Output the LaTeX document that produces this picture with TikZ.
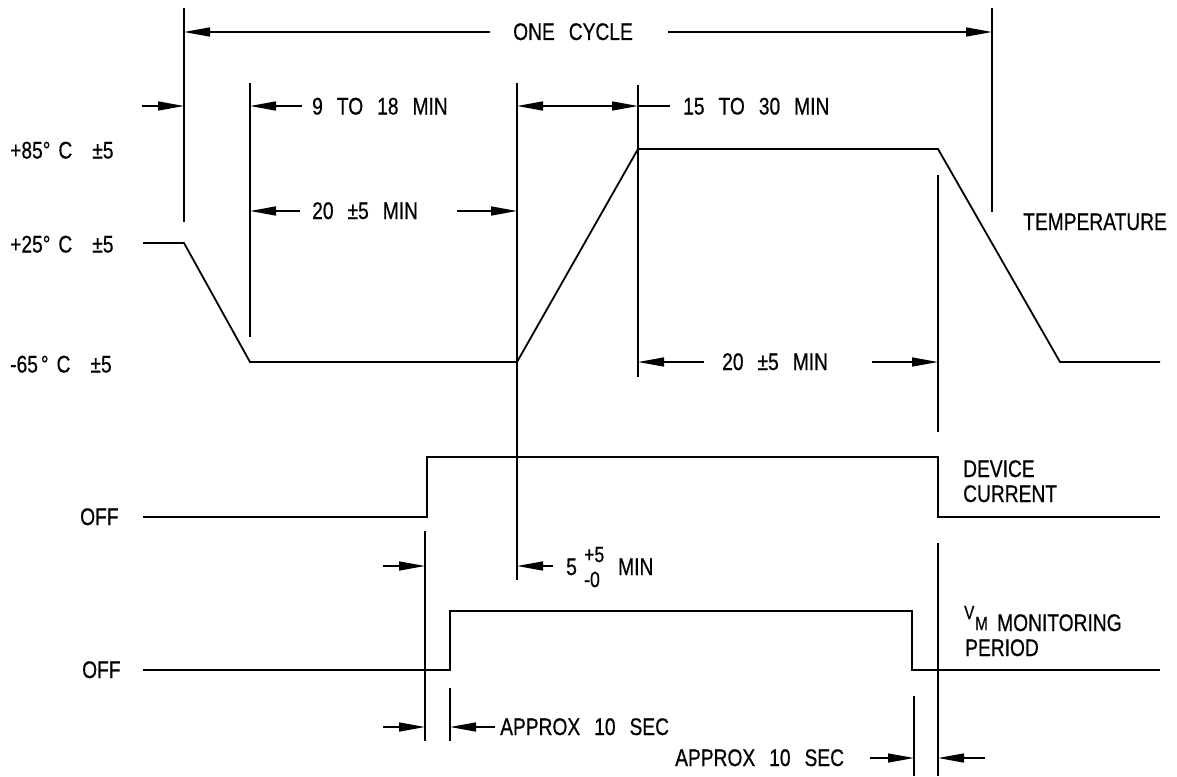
\documentclass[tikz,border=0pt]{standalone}
\usepackage{fontspec}
\setmainfont{Liberation Sans}[FakeStretch=0.8,FakeBold=0.6]
\usetikzlibrary{arrows.meta}
\newcommand{\cadfont}{\fontsize{24}{28}\selectfont\spaceskip=14pt\relax}
\newcommand{\cadsmall}{\fontsize{22}{25}\selectfont}
\newcommand{\cadtiny}{\fontsize{19}{22}\selectfont}
\begin{document}
\begin{tikzpicture}[x=1pt,y=-1pt,
  dimline/.style={line width=1.5pt,-{Triangle[length=26pt,width=9pt]}},
  dimboth/.style={line width=1.5pt,{Triangle[length=26pt,width=9pt]}-{Triangle[length=26pt,width=9pt]}},
  extline/.style={line width=1.5pt},
  wave/.style={line width=1.8pt,line join=miter},
  lbl/.style={anchor=base west,inner sep=0pt,font=\cadfont},
  lblsmall/.style={anchor=base west,inner sep=0pt,font=\cadsmall},
  lbltiny/.style={anchor=base west,inner sep=0pt,font=\cadtiny}]
\useasboundingbox (0,0) rectangle (1177,776);

% ---------- extension lines ----------
\coordinate (e1t) at (184,8);   \coordinate (e1b) at (184,222);
\coordinate (e2t) at (992,8);   \coordinate (e2b) at (992,212);
\coordinate (e3t) at (250,83);  \coordinate (e3b) at (250,337);
\coordinate (e4t) at (517,83);  \coordinate (e4b) at (517,580);
\coordinate (e5t) at (638,85);  \coordinate (e5b) at (638,377);
\coordinate (e6t) at (938,175); \coordinate (e6b) at (938,432);
\coordinate (e7t) at (425,531); \coordinate (e7b) at (425,741);
\coordinate (e8t) at (450,688); \coordinate (e8b) at (450,741);
\coordinate (e9t) at (914,696); \coordinate (e9b) at (914,776);
\coordinate (e10t) at (938,543); \coordinate (e10b) at (938,776);
\foreach \i in {1,...,10} \draw[extline] (e\i t) -- (e\i b);

% ---------- waveforms ----------
\draw[wave] (143,243) -- (184,243) -- (250,362) -- (517,362) -- (638,149)
  -- (938,149) -- (1060,362) -- (1160,362);
\draw[wave] (143,517) -- (427,517) -- (427,457) -- (938,457) -- (938,517) -- (1160,517);
\draw[wave] (143,670) -- (450,670) -- (450,611) -- (912,611) -- (912,670) -- (1160,670);

% ---------- dimension arrows ----------
\draw[dimline] (490,32) -- (184,32);
\draw[dimline] (668,32) -- (992,32);
\draw[dimline] (142,106) -- (184,106);
\draw[dimline] (302,106) -- (250,106);
\draw[dimboth] (517,106) -- (638,106);
\draw[extline] (638,106) -- (670,106);
\draw[dimline] (300,211) -- (250,211);
\draw[dimline] (457,211) -- (517,211);
\draw[dimline] (704,362) -- (638,362);
\draw[dimline] (872,362) -- (938,362);
\draw[dimline] (383,566) -- (425,566);
\draw[dimline] (553,566) -- (517,566);
\draw[dimline] (383,727) -- (425,727);
\draw[dimline] (495,727) -- (450,727);
\draw[dimline] (870,758) -- (914,758);
\draw[dimline] (985,758) -- (938,758);

% ---------- labels ----------
\node[lbl] (onecycle) at (513,40) {ONE CYCLE};
\node[lbl] (t918) at (312,114.5) {9 TO 18 MIN};
\node[lbl] (t1530) at (683,114.5) {15 TO 30 MIN};
\node[lbl] (t20a) at (312,219) {20 ±5 MIN};
\node[lbl] (t20b) at (722,370) {20 ±5 MIN};
\node[lbl] (p85) at (10,158.5) {+85°\hspace{8pt}C\hspace{20pt}±5};
\node[lbl] (p25) at (10,252.5) {+25°\hspace{8pt}C\hspace{20pt}±5};
\node[lbl] (m65) at (10,372.5) {-65\hspace{3pt}°\hspace{8pt}C\hspace{20pt}±5};
\node[lbl] (temp) at (1023,230) {TEMPERATURE};
\node[lbl] (dev1) at (963,477) {DEVICE};
\node[lbl] (dev2) at (963,502) {CURRENT};
\node[lbl] (off1) at (80,525) {OFF};
\node[lbl] (off2) at (82,678) {OFF};
\node[lbl] (five) at (566,575) {5};
\node[lblsmall] (plus5) at (584,562) {+5};
\node[lblsmall] (minus0) at (584,587) {-0};
\node[lbl] (min5) at (618,575) {MIN};
\node[lbltiny] (vmv) at (964,619) {V};
\node[lbltiny] (vmm) at (975,630) {M};
\node[lbl] (mon) at (997,631) {MONITORING};
\node[lbl] (per) at (965,656) {PERIOD};
\node[lbl] (ap1) at (500,735) {APPROX 10 SEC};
\node[lbl] (ap2) at (675,766) {APPROX 10 SEC};
\end{tikzpicture}
\end{document}
